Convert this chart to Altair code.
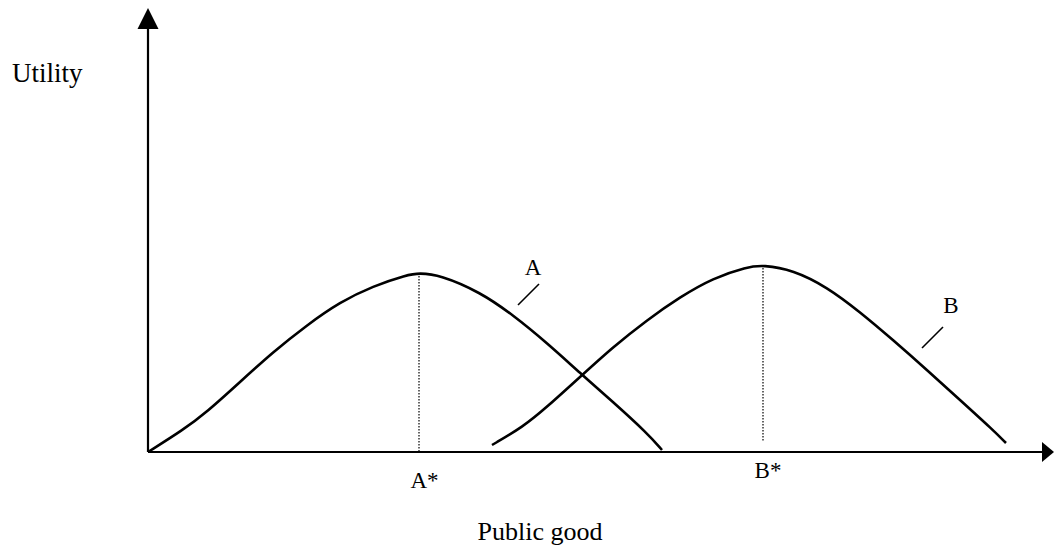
import altair as alt
import pandas as pd

# Utility curve of voter A (public good quantity, utility)
a_x = [0, 3.5, 5.9, 9.2, 12.5, 15.9, 19.2, 22.5, 25.9, 27.1, 29.2, 33.2, 36.5, 39.9, 43.2, 46.5, 49.9, 51.4]
a_y = [0, 2.2, 4.0, 7.0, 10.0, 12.7, 15.0, 16.6, 17.7, 17.9, 17.7, 16.0, 13.7, 10.9, 7.9, 5.0, 1.9, 0.2]
# Utility curve of voter B
b_x = [34.4, 37.5, 39.9, 43.2, 46.5, 49.9, 53.2, 56.5, 59.9, 61.5, 64.5, 67.9, 71.2, 74.5, 77.9, 81.2, 84.5, 85.8]
b_y = [0.7, 2.5, 4.5, 7.5, 10.5, 13.2, 15.5, 17.4, 18.5, 18.7, 18.2, 16.5, 14.0, 11.2, 8.2, 5.2, 2.2, 0.9]

# Ideal points (peaks)
peak_names = ["A*", "B*"]
peak_x = [27.1, 61.5]
peak_y = [17.9, 18.7]
peak_base = [0.1, 1.1]
peak_label_x = [27.65, 62.0]
peak_label_y = [-3.6, -2.6]

# Curve labels with leader lines
curve_names = ["A", "B"]
curve_label_x = [38.5, 80.3]
curve_label_y = [17.7, 13.9]
leader_x1 = [37.0, 77.4]
leader_y1 = [14.7, 10.4]
leader_x2 = [39.1, 79.5]
leader_y2 = [16.8, 12.5]

# Axes extents
x_axis_end = 89.8
y_axis_end = 42.3
x_arrow = 90.0
y_arrow = 43.35

X_DOMAIN = [-14, 90.6]
Y_DOMAIN = [-9.6, 44.4]
FONT = "Liberation Serif"

xs = alt.Scale(domain=X_DOMAIN, nice=False, zero=False)
ys = alt.Scale(domain=Y_DOMAIN, nice=False, zero=False)

def X(field):
    return alt.X(field, type="quantitative", scale=xs, axis=None)

def Y(field):
    return alt.Y(field, type="quantitative", scale=ys, axis=None)

curves = pd.DataFrame(
    {"x": a_x + b_x, "y": a_y + b_y, "curve": ["A"] * len(a_x) + ["B"] * len(b_x),
     "order": list(range(len(a_x))) + list(range(len(b_x)))}
)
curve_layer = alt.Chart(curves).mark_line(
    color="black", strokeWidth=2.6, interpolate="basis"
).encode(x=X("x"), y=Y("y"), detail="curve:N", order="order:Q")

peaks = pd.DataFrame({"name": peak_names, "x": peak_x, "y": peak_y, "y0": peak_base,
                      "lx": peak_label_x, "ly": peak_label_y})
dotted = alt.Chart(peaks).mark_rule(color="black", strokeWidth=1.2, strokeDash=[1.5, 1.5]).encode(
    x=X("x"), y=Y("y"), y2="y0"
)
peak_text = alt.Chart(peaks).mark_text(
    font=FONT, fontSize=23, color="black", align="center", baseline="alphabetic"
).encode(x=X("lx"), y=Y("ly"), text="name")

labels = pd.DataFrame({"name": curve_names, "lx": curve_label_x, "ly": curve_label_y,
                       "x1": leader_x1, "y1": leader_y1, "x2": leader_x2, "y2": leader_y2})
leaders = alt.Chart(labels).mark_rule(color="black", strokeWidth=1.6).encode(
    x=X("x1"), y=Y("y1"), x2="x2", y2="y2"
)
curve_text = alt.Chart(labels).mark_text(
    font=FONT, fontSize=23, color="black", align="center", baseline="alphabetic"
).encode(x=X("lx"), y=Y("ly"), text="name")

axes = pd.DataFrame({"x": [0, 0], "y": [0, 0], "x2": [x_axis_end, 0], "y2": [0, y_axis_end]})
axis_lines = alt.Chart(axes).mark_rule(color="black", strokeWidth=2.2).encode(
    x=X("x"), y=Y("y"), x2="x2", y2="y2"
)
arrow_r = alt.Chart(pd.DataFrame({"x": [x_arrow], "y": [0]})).mark_point(
    shape="M-0.6,-1L0.6,0L-0.6,1Z", size=400, filled=True, color="black", opacity=1
).encode(x=X("x"), y=Y("y"))
arrow_u = alt.Chart(pd.DataFrame({"x": [0], "y": [y_arrow]})).mark_point(
    shape="M0,-1L1,1L-1,1Z", size=441, filled=True, color="black", opacity=1
).encode(x=X("x"), y=Y("y"))

titles = pd.DataFrame({"t": ["Utility", "Public good"], "x": [-13.6, 39.2], "y": [37.0, -8.8]})
utility_text = alt.Chart(titles.iloc[[0]]).mark_text(
    font=FONT, fontSize=27, color="black", align="left", baseline="alphabetic"
).encode(x=X("x"), y=Y("y"), text="t")
pg_text = alt.Chart(titles.iloc[[1]]).mark_text(
    font=FONT, fontSize=26, color="black", align="center", baseline="alphabetic"
).encode(x=X("x"), y=Y("y"), text="t")

chart = alt.layer(
    axis_lines, arrow_r, arrow_u, dotted, curve_layer, leaders,
    curve_text, peak_text, utility_text, pg_text
).properties(
    width=1046, height=540, padding=0,
    autosize=alt.AutoSizeParams(type="none"),
    background="white",
).configure_view(stroke=None)

chart.save("out.html", embed_options={"renderer": "svg", "actions": False})
